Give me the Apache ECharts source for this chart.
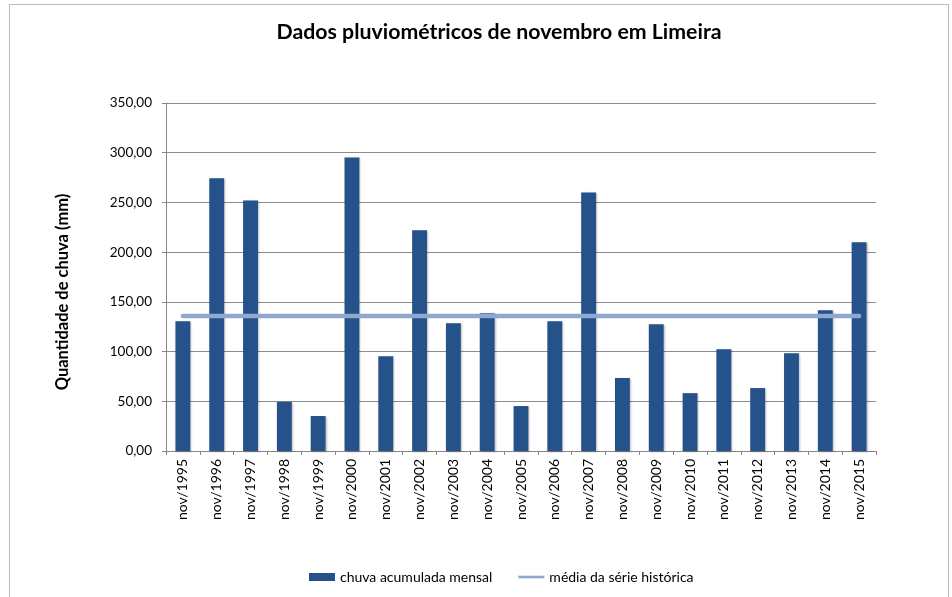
<!DOCTYPE html>
<html>
<head>
<meta charset="utf-8">
<script src="https://cdn.jsdelivr.net/npm/echarts@6/dist/echarts.min.js"></script>
<style>
  html, body { margin: 0; padding: 0; background: #fff; }
  #chart { width: 952px; height: 597px; }
  .frame { position: absolute; left: 9px; top: 4px; width: 940px; height: 600px; border: 1px solid #bdbdbd; box-sizing: border-box; pointer-events: none; }
</style>
</head>
<body>
<div id="chart"></div>
<div class="frame"></div>
<script>
const categories = ['nov/1995', 'nov/1996', 'nov/1997', 'nov/1998', 'nov/1999', 'nov/2000', 'nov/2001',
  'nov/2002', 'nov/2003', 'nov/2004', 'nov/2005', 'nov/2006', 'nov/2007', 'nov/2008', 'nov/2009',
  'nov/2010', 'nov/2011', 'nov/2012', 'nov/2013', 'nov/2014', 'nov/2015'];
const chuvaMensal = [130.6, 274.2, 252.0, 49.5, 35.2, 295.3, 95.4, 222.0, 128.5, 138.6, 45.2,
  130.6, 260.0, 73.3, 127.5, 58.2, 102.4, 63.3, 98.4, 141.6, 209.9];
const mediaHistorica = categories.map(() => 135.9);

const fontFamily = 'Lato, "Liberation Sans", sans-serif';
const fmt = (v) => v.toFixed(2).replace('.', ',');

const chart = echarts.init(document.getElementById('chart'), undefined, { renderer: 'canvas' });

const option = {
  animation: false,
  backgroundColor: '#fff',
  textStyle: { fontFamily },
  title: {
    text: 'Dados pluviométricos de novembro em Limeira',
    left: 494,
    top: 17,
    textAlign: 'center',
    textStyle: { fontSize: 21.3, fontWeight: 'bold', color: '#000', fontFamily },
  },
  legend: {
    bottom: 8,
    left: 304,
    itemGap: 26,
    itemWidth: 26,
    itemHeight: 8,
    textStyle: { fontSize: 14, color: '#000', fontFamily },
    data: [
      { name: 'chuva acumulada mensal', icon: 'rect' },
      { name: 'média da série histórica', icon: 'path://M0,3 L30,3 L30,6 L0,6 Z' },
    ],
  },
  grid: { left: 166, right: 76, top: 103, bottom: 146 },
  xAxis: {
    type: 'category',
    data: categories,
    boundaryGap: true,
    axisLine: { lineStyle: { color: '#868686' } },
    axisTick: { show: true, length: 4, lineStyle: { color: '#868686' } },
    axisLabel: { rotate: 90, fontSize: 14, color: '#000', margin: 8, fontFamily, interval: 0 },
  },
  yAxis: {
    type: 'value',
    min: 0,
    max: 350,
    interval: 50,
    name: 'Quantidade de chuva (mm)',
    nameLocation: 'middle',
    nameGap: 95,
    nameTextStyle: { fontSize: 16.5, fontWeight: 'bold', color: '#000', fontFamily, padding: [0, 30, 0, 0] },
    axisLine: { show: true, lineStyle: { color: '#868686' } },
    axisTick: { show: true, length: 4, lineStyle: { color: '#868686' } },
    axisLabel: { formatter: fmt, fontSize: 13.5, color: '#000', margin: 14, fontFamily },
    splitLine: { lineStyle: { color: '#8c8c8c', width: 1 } },
  },
  series: [
    {
      name: 'chuva acumulada mensal',
      type: 'bar',
      data: chuvaMensal,
      barWidth: '44%',
      itemStyle: {
        color: '#25528A',
        shadowColor: 'rgba(0,0,0,0.25)',
        shadowBlur: 2,
        shadowOffsetX: 1,
        shadowOffsetY: 1,
      },
    },
    {
      name: 'média da série histórica',
      type: 'line',
      data: mediaHistorica,
      symbol: 'none',
      lineStyle: { color: '#8EA8CF', width: 4.5, cap: 'round' },
      itemStyle: { color: '#8EA8CF' },
      z: 3,
    },
  ],
};

chart.setOption(option);
</script>
</body>
</html>
